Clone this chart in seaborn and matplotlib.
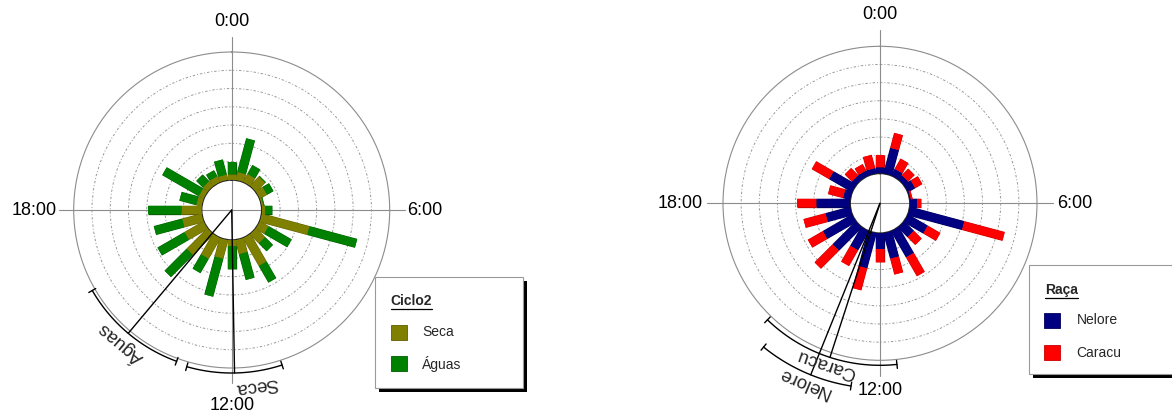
import numpy as np
import matplotlib
matplotlib.use("Agg")
import matplotlib.pyplot as plt
import matplotlib.patheffects as pe
import seaborn as sns
from matplotlib.patches import Rectangle
from matplotlib.lines import Line2D

# ---------------- data ----------------
hours = list(range(24))
hour_labels = ["0:00", "6:00", "12:00", "18:00"]
hour_label_pos = [0, 6, 12, 18]

# chart 1: Ciclo2 (stacked: Seca inner, Águas outer)
ciclo_names = ["Seca", "Águas"]
seca = [0.30, 0.45, 0.50, 0.70, 0.45, 0.10, 0.20, 2.70, 0.55, 0.70, 1.75, 0.80,
        0.30, 1.05, 1.30, 1.60, 1.20, 1.10, 1.10, 0.30, 0.30, 0.35, 0.35, 0.30]
aguas = [0.70, 1.90, 0.55, 0.05, 0.40, 0.05, 0.38, 2.70, 1.45, 0.60, 1.05, 1.45,
         1.30, 2.15, 0.90, 1.70, 1.70, 1.60, 1.85, 0.95, 2.30, 0.50, 0.37, 0.85]
# mean direction and confidence arc (clock degrees)
ciclo_stat_names = ["Águas", "Seca"]
ciclo_mean = [220, 179]
ciclo_ci_low = [200, 162]
ciclo_ci_high = [240, 196]

# chart 2: Raça (stacked: Nelore inner, Caracu outer)
raca_names = ["Nelore", "Caracu"]
nelore = [0.35, 1.45, 0.40, 0.30, 0.45, 0.05, 0.40, 3.10, 1.25, 0.75, 1.65, 1.45,
          0.85, 2.00, 1.20, 1.80, 1.85, 1.40, 1.85, 0.40, 1.45, 0.30, 0.30, 0.30]
caracu = [0.65, 0.85, 0.65, 0.50, 0.45, 0.10, 0.22, 2.30, 0.80, 0.60, 1.20, 0.90,
          0.75, 1.25, 1.00, 1.40, 0.95, 1.25, 1.10, 0.85, 1.10, 0.55, 0.40, 0.75]
raca_stat_names = ["Caracu", "Nelore"]
raca_mean = [198, 202]
raca_ci_low = [174, 189]
raca_ci_high = [224, 219]

# ---------------- style ----------------
sns.set_theme(style="white")
plt.rcParams["font.family"] = ["Liberation Sans", "DejaVu Sans"]
col_seca, col_aguas = "#808000", "#008000"
col_nelore, col_caracu = "#000080", "#ff0000"
edge = {col_seca: "#5e5e00", col_aguas: "#005e00",
        col_nelore: "#00005a", col_caracu: "#c80000"}

W, H = 1172, 415
fig = plt.figure(figsize=(W / 100, H / 100), dpi=100)
fig.patch.set_facecolor("white")

RMAX = 7
RORIG = -1.65
BAR_PT = 6.0


def th(deg):
    return np.deg2rad(deg)


def make_polar(cx, cy, R):
    ax = fig.add_axes([(cx - R) / W, 1 - (cy + R) / H, 2 * R / W, 2 * R / H],
                      projection="polar")
    ax.set_theta_zero_location("N")
    ax.set_theta_direction(-1)
    ax.set_ylim(0, RMAX)
    ax.set_rorigin(RORIG)
    ax.set_xticks([])
    ax.set_yticks(range(1, RMAX))
    ax.set_yticklabels([])
    ax.grid(False)
    ax.yaxis.grid(True, color="#9a9a9a", lw=0.7, ls=(0, (2.5, 2, 1, 2)))
    ax.spines["polar"].set_color("#8c8c8c")
    ax.spines["polar"].set_linewidth(0.8)
    if "inner" in ax.spines:
        ax.spines["inner"].set_visible(False)
    ax.set_facecolor("white")
    unit = R / (RMAX - RORIG)
    return ax, unit


def px2r(px, unit):
    return px / unit + RORIG


def draw_chart(ax, unit, inner, outer, c_in, c_out, label_px):
    # crosshair
    ext = px2r(173, unit)
    for d in (0, 90, 180, 270):
        ax.plot([th(d), th(d)], [RORIG, ext], color="#8c8c8c", lw=0.8,
                clip_on=False, zorder=1)
    theta = th(np.array(hours) * 15.0)
    inner = np.array(inner)
    outer = np.array(outer)
    for lo, hi, c in ((np.zeros_like(inner), inner, c_in),
                      (inner, inner + outer, c_out)):
        lc = ax.vlines(theta, lo, hi, colors=c, lw=BAR_PT, capstyle="butt",
                       zorder=3)
        lc.set_path_effects([pe.Stroke(linewidth=BAR_PT + 0.7,
                                       foreground=edge[c]), pe.Normal()])
    # hour labels
    for hp, lab, (rp, ha, va) in zip(hour_label_pos, hour_labels, label_px):
        ax.text(th(hp * 15), px2r(rp, unit), lab, ha=ha, va=va, fontsize=13,
                color="black", clip_on=False)


def draw_stats(ax, unit, names, means, lows, highs, arc_px, text_px, text_deg):
    for n, m, lo, hi, ap, tp, td in zip(names, means, lows, highs, arc_px,
                                        text_px, text_deg):
        ra = px2r(ap, unit)
        ax.plot([th(m), th(m)], [RORIG, ra], color="black", lw=1.0,
                clip_on=False, zorder=5)
        tt = th(np.linspace(lo, hi, 120))
        ax.plot(tt, np.full_like(tt, ra), color="black", lw=1.0, clip_on=False,
                zorder=5)
        d = 4 / unit
        for e in (lo, hi):
            ax.plot([th(e), th(e)], [ra - d, ra + d], color="black", lw=1.0,
                    clip_on=False, zorder=5)
        ax.text(th(td), px2r(tp, unit), n, rotation=(-td) % 360,
                rotation_mode="anchor", ha="center", va="center",
                fontsize=13.5, clip_on=False, zorder=6)


# ---- left chart ----
ax1, u1 = make_polar(231.7, 210, 158)
draw_chart(ax1, u1, seca, aguas, col_seca, col_aguas,
           [(180, "center", "bottom"), (175, "left", "center"),
            (187, "center", "top"), (175, "right", "center")])
draw_stats(ax1, u1, ciclo_stat_names, ciclo_mean, ciclo_ci_low, ciclo_ci_high,
           [161, 163], [174, 177], [220, 172])

# ---- right chart ----
ax2, u2 = make_polar(880, 203.3, 157)
draw_chart(ax2, u2, nelore, caracu, col_nelore, col_caracu,
           [(180, "center", "bottom"), (177, "left", "center"),
            (179, "center", "top"), (177, "right", "center")])
draw_stats(ax2, u2, raca_stat_names, raca_mean, raca_ci_low, raca_ci_high,
           [162, 185], [169, 194], [198.7, 202.8])


# ---------------- legends ----------------
def fx(x):
    return x / W


def fy(y):
    return 1 - y / H


def legend_box(x0, y0, x1, y1, title, names, colors, tx, ty, sx, sy, lx):
    sh = 3.5
    fig.add_artist(Rectangle((fx(x0 + sh), fy(y1 + sh)), fx(x1 - x0), (y1 - y0) / H,
                             transform=fig.transFigure, facecolor="black",
                             edgecolor="none", zorder=10))
    fig.add_artist(Rectangle((fx(x0), fy(y1)), fx(x1 - x0), (y1 - y0) / H,
                             transform=fig.transFigure, facecolor="white",
                             edgecolor="#9a9a9a", lw=0.8, zorder=11))
    t = fig.text(fx(tx), fy(ty), title, ha="left", va="center", fontsize=10,
                 fontweight="bold", zorder=12)
    for n, c, yy in zip(names, colors, sy):
        fig.add_artist(Rectangle((fx(sx), fy(yy + 7.5)), fx(16), 15 / H,
                                 transform=fig.transFigure, facecolor=c,
                                 edgecolor=edge[c], lw=0.6, zorder=12))
        fig.text(fx(lx), fy(yy), n, ha="left", va="center", fontsize=10,
                 zorder=12)
    return t


t1 = legend_box(375, 277, 523, 388, "Ciclo2", ciclo_names, [col_seca, col_aguas],
                390.7, 300.5, 390.7, [332.5, 363.5], 422.3)
t2 = legend_box(1029.3, 265, 1190, 374, "Raça", raca_names, [col_nelore, col_caracu],
                1045, 290, 1044.3, [320.5, 352.5], 1076.7)

fig.canvas.draw()
r = fig.canvas.get_renderer()
for t in (t1, t2):
    bb = t.get_window_extent(r)
    yb = bb.y0 - 1.0
    fig.add_artist(Line2D([bb.x0 / W, bb.x1 / W], [yb / H, yb / H],
                          transform=fig.transFigure, color="black", lw=0.9,
                          zorder=13))

fig.savefig("out.png", dpi=100, facecolor="white")
